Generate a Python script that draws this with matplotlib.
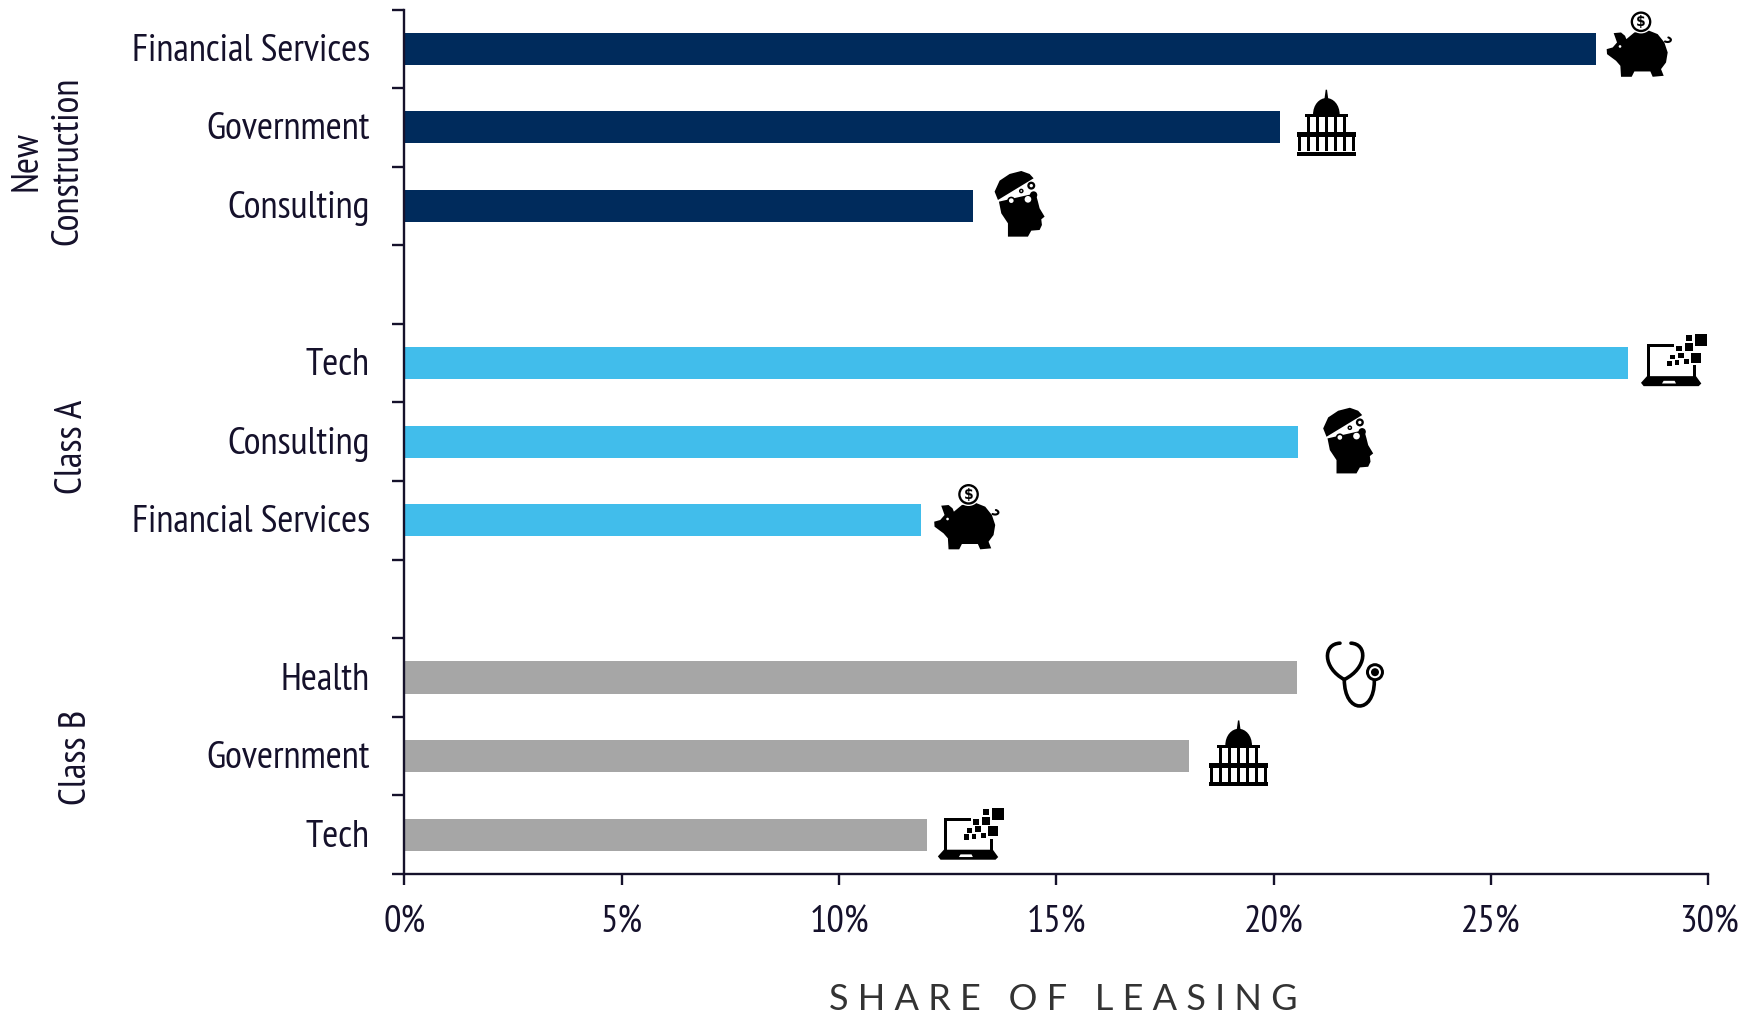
import matplotlib
matplotlib.use('Agg')
import matplotlib.pyplot as plt
from matplotlib.patches import Polygon, Circle, Rectangle, PathPatch
from matplotlib.path import Path
from matplotlib.transforms import Affine2D

plt.rcParams['font.family'] = ['PT Sans Narrow', 'Liberation Sans', 'DejaVu Sans']

labels = ['Financial Services', 'Government', 'Consulting',
          'Tech', 'Consulting', 'Financial Services',
          'Health', 'Government', 'Tech']
values = [27.42, 20.15, 13.07, 28.14, 20.56, 11.88, 20.54, 18.04, 12.01]
slots = [0.5, 1.5, 2.5, 4.5, 5.5, 6.5, 8.5, 9.5, 10.5]
colors = ['#002B5C'] * 3 + ['#41BDEB'] * 3 + ['#A6A6A6'] * 3
icons = ['pig', 'capitol', 'head', 'laptop', 'head', 'pig', 'scope', 'capitol', 'laptop']
# offset of the icon centre from the bar end, in pixels
icon_dx = [43, 46, 47, 46, 50, 46, 58, 50, 44]
icon_dy = [4, 5, 2, 3, 1, 3, 3, 3, 1]
xticks = [0, 5, 10, 15, 20, 25, 30]

INK = '#15112B'
W, H = 1758, 1016


def px_text(x, y, s, **kw):
    return fig.text(x / W, 1 - y / H, s, ha='center', va='center', **kw)


def add_shape(ax, patch, tr):
    patch.set_transform(tr)
    patch.set_clip_on(False)
    patch.set_zorder(5)
    ax.add_patch(patch)


def poly(ax, pts, tr, color='black'):
    add_shape(ax, Polygon(pts, closed=True, fc=color, ec='none'), tr)


def rect(ax, x0, y0, x1, y1, tr, color='black'):
    add_shape(ax, Rectangle((x0, y0), x1 - x0, y1 - y0, fc=color, ec='none'), tr)


def disc(ax, x, y, r, tr, color='black'):
    add_shape(ax, Circle((x, y), r, fc=color, ec='none'), tr)


def curve(ax, pts, tr, lw):
    codes = [Path.MOVETO] + [Path.CURVE4] * (len(pts) - 1)
    add_shape(ax, PathPatch(Path(pts, codes), fc='none', ec='black', lw=lw, capstyle='round'), tr)


# the icons are sketched in third-of-a-pixel units, y pointing down
def draw_pig(ax, tr):
    body = [(228, 97), (250, 95), (262, 105), (266, 115), (290, 95), (330, 88), (360, 100),
            (380, 125), (390, 155), (385, 185), (370, 205), (378, 225), (345, 228), (338, 212),
            (290, 212), (282, 228), (250, 228), (248, 195), (235, 180), (208, 160), (207, 145),
            (225, 140), (238, 125)]
    poly(ax, body, tr)
    disc(ax, 247, 137, 4, tr, 'white')
    curve(ax, [(382, 122), (396, 128), (408, 116), (392, 110)], tr, 1.5)
    disc(ax, 310, 63, 35, tr, 'white')
    disc(ax, 310, 63, 31, tr)
    disc(ax, 310, 63, 24, tr, 'white')
    ax.text(310, 64, '\\$', transform=tr, fontsize=10, fontweight='bold', ha='center',
            va='center', color='black', zorder=6, clip_on=False, family='DejaVu Sans')


def draw_capitol(ax, tr):
    dome = Path([(161, 105), (161, 75), (180, 55), (201, 55), (222, 55), (241, 75), (241, 105), (161, 105)],
                [Path.MOVETO] + [Path.CURVE4] * 6 + [Path.CLOSEPOLY])
    add_shape(ax, PathPatch(dome, fc='black', ec='none'), tr)
    poly(ax, [(199, 30), (203, 30), (207, 60), (195, 60)], tr)
    rect(ax, 137, 103, 265, 113, tr)
    for x in [147, 173, 201, 228, 254]:
        rect(ax, x - 4.5, 113, x + 4.5, 158, tr)
    rect(ax, 112, 158, 290, 172, tr)
    for x in [120, 146, 175, 201, 229, 254, 281]:
        rect(ax, x - 4.5, 172, x + 4.5, 214, tr)
    rect(ax, 112, 216, 290, 228, tr)


def draw_head(ax, tr):
    poly(ax, [(115, 120), (105, 95), (120, 62), (150, 42), (185, 33), (210, 42), (222, 55)], tr)
    poly(ax, [(118, 125), (175, 112), (228, 100), (235, 125), (240, 145), (255, 170), (245, 178),
              (247, 195), (240, 210), (215, 212), (205, 230), (145, 230), (145, 190), (125, 160)], tr)
    disc(ax, 215, 77, 12, tr)
    disc(ax, 215, 77, 5, tr, 'white')
    disc(ax, 185, 93, 7, tr)
    disc(ax, 185, 93, 2.5, tr, 'white')
    disc(ax, 222, 105, 11, tr)
    disc(ax, 155, 122, 12, tr)
    disc(ax, 155, 122, 7, tr, 'white')
    disc(ax, 205, 118, 10, tr, 'white')


def draw_laptop(ax, tr):
    rect(ax, 88, 72, 165, 81, tr)
    rect(ax, 84, 72, 94, 172, tr)
    rect(ax, 222, 135, 232, 172, tr)
    poly(ax, [(85, 168), (232, 168), (248, 190), (240, 198), (75, 198), (67, 188)], tr)
    poly(ax, [(135, 182), (168, 182), (172, 190), (130, 190)], tr, 'white')
    for x, y, h in [(211, 54, 9), (246, 60, 18), (211, 81, 12), (181, 85, 8), (187, 106, 8),
                    (162, 111, 7), (231, 113, 15), (203, 125, 8), (175, 128, 7), (152, 130, 8)]:
        rect(ax, x - h, y - h, x + h, y + h, tr)


def draw_scope(ax, tr):
    curve(ax, [(122, 36), (70, 38), (70, 110), (135, 145)], tr, 2.6)
    curve(ax, [(155, 36), (205, 38), (205, 110), (135, 145)], tr, 2.6)
    curve(ax, [(135, 145), (135, 250), (225, 250), (225, 150)], tr, 2.6)
    disc(ax, 227, 123, 27, tr)
    disc(ax, 227, 123, 18, tr, 'white')
    disc(ax, 227, 123, 12, tr)


icon_draw = {'pig': (draw_pig, 305, 132), 'capitol': (draw_capitol, 201, 128),
             'head': (draw_head, 180, 132), 'laptop': (draw_laptop, 165, 120),
             'scope': (draw_scope, 168, 130)}

fig = plt.figure(figsize=(W / 100, H / 100), dpi=100)
ax = fig.add_axes([404.5 / W, 1 - 874 / H, (1708.5 - 404.5) / W, (874 - 9.5) / H])

ax.barh(slots, values, height=0.41, color=colors, zorder=2)
ax.set_xlim(0, 30)
ax.set_ylim(11, 0)

ax.set_xticks(xticks)
ax.set_xticklabels([f'{t}%' for t in xticks], fontsize=28, color=INK)
ax.tick_params(axis='x', length=8, width=1.7, color=INK, pad=15)
ax.set_yticks(range(12))
ax.set_yticklabels([''] * 12)
ax.tick_params(axis='y', which='major', length=8.5, width=1.7, color=INK)
ax.set_yticks(slots, minor=True)
ax.set_yticklabels(labels, minor=True, fontsize=28, color=INK)
ax.tick_params(axis='y', which='minor', length=0, pad=25)
for lab in ax.get_yticklabels(minor=True):
    lab.set_transform(lab.get_transform() + Affine2D().translate(0, 1.5))

for side in ['top', 'right']:
    ax.spines[side].set_visible(False)
for side in ['left', 'bottom']:
    ax.spines[side].set_linewidth(1.7)
    ax.spines[side].set_color(INK)

for val, s, name, dx, dy in zip(values, slots, icons, icon_dx, icon_dy):
    draw, cx, cy = icon_draw[name]
    px, py = ax.transData.transform((val, s))
    tr = Affine2D().translate(-cx, -cy).scale(1 / 3, -1 / 3).translate(px + dx, py + dy)
    draw(ax, tr)

px_text(47.5, 161, 'New\nConstruction', rotation=90, fontsize=28, linespacing=1.25,
        multialignment='center', color=INK)
px_text(73, 447, 'Class A', rotation=90, fontsize=28, color=INK)
px_text(76, 757, 'Class B', rotation=90, fontsize=28, color=INK)
px_text(1063, 1000, 'S H A R E   O F   L E A S I N G', fontsize=26, family=['Lato', 'DejaVu Sans'],
        color='#333333')

fig.savefig('out.png', dpi=100)
